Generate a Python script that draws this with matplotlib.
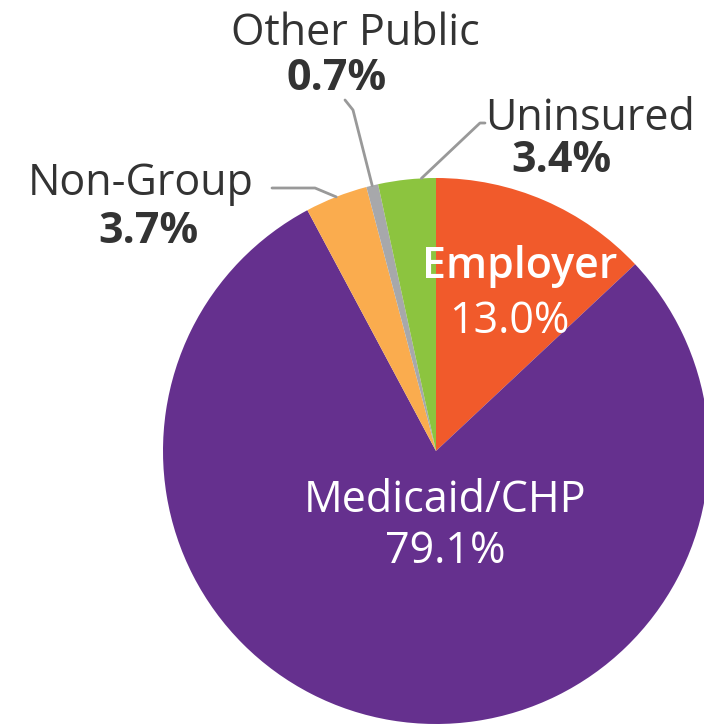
import numpy as np
import matplotlib.pyplot as plt

labels = ["Employer", "Medicaid/CHP", "Non-Group", "Other Public", "Uninsured"]
values = [13.0, 79.1, 3.7, 0.7, 3.4]
colors = ["#F15A2B", "#65308E", "#FAAC4E", "#A7A8AB", "#8CC43F"]

W, H = 704, 726
plt.rcParams['font.family'] = ['Open Sans', 'DejaVu Sans']

fig = plt.figure(figsize=(W / 100, H / 100), dpi=100)
ax = fig.add_axes([0, 0, 1, 1])

cx, cy, r = 436, H - 451, 273
wedges, _ = ax.pie(values, colors=colors, startangle=90, counterclock=False,
                   center=(cx, cy), radius=r, frame=True,
                   wedgeprops={'linewidth': 0})
ax.set_xlim(0, W)
ax.set_ylim(0, H)
ax.axis('off')


def py(y):
    # y en pixels depuis le haut -> y des donnees
    return H - y


def edge(w, frac):
    a = np.deg2rad(w.theta1 + frac * (w.theta2 - w.theta1))
    return cx + r * np.cos(a), cy + r * np.sin(a)


dark = "#333333"
fs = 31

# texte a l'interieur
ax.text(520, py(278), "Employer", color="white", fontsize=fs, fontweight="semibold",
        ha="center", va="baseline")
ax.text(509, py(333), "13.0%", color="white", fontsize=fs, ha="center", va="baseline")
ax.text(445, py(512), "Medicaid/CHP", color="white", fontsize=fs,
        ha="center", va="baseline")
ax.text(445, py(563), "79.1%", color="white", fontsize=fs,
        ha="center", va="baseline")

# etiquettes exterieures
outside = [
    ("Other Public", "0.7%", 355, 45, 337, 90),
    ("Uninsured", "3.4%", 590, 130, 561, 172),
    ("Non-Group", "3.7%", 141, 195, 148, 243),
]
for nom, pct, x1, y1, x2, y2 in outside:
    ax.text(x1, py(y1), nom, color=dark, fontsize=fs, ha="center", va="baseline")
    ax.text(x2, py(y2), pct, color=dark, fontsize=fs, fontweight="bold",
            ha="center", va="baseline")

# traits de rappel
lc = "#999999"
x0, y0 = edge(wedges[3], 0.5)
ax.plot([x0, 353, 345], [y0, py(110), py(100)], color=lc, lw=2, solid_capstyle="round")
x0, y0 = edge(wedges[4], 0.25)
ax.plot([x0, 480, 485], [y0, py(123), py(123)], color=lc, lw=2, solid_capstyle="round")
x0, y0 = edge(wedges[2], 0.5)
ax.plot([x0, 315, 272], [y0, py(188), py(188)], color=lc, lw=2, solid_capstyle="round")

fig.savefig("out.png", dpi=100)
